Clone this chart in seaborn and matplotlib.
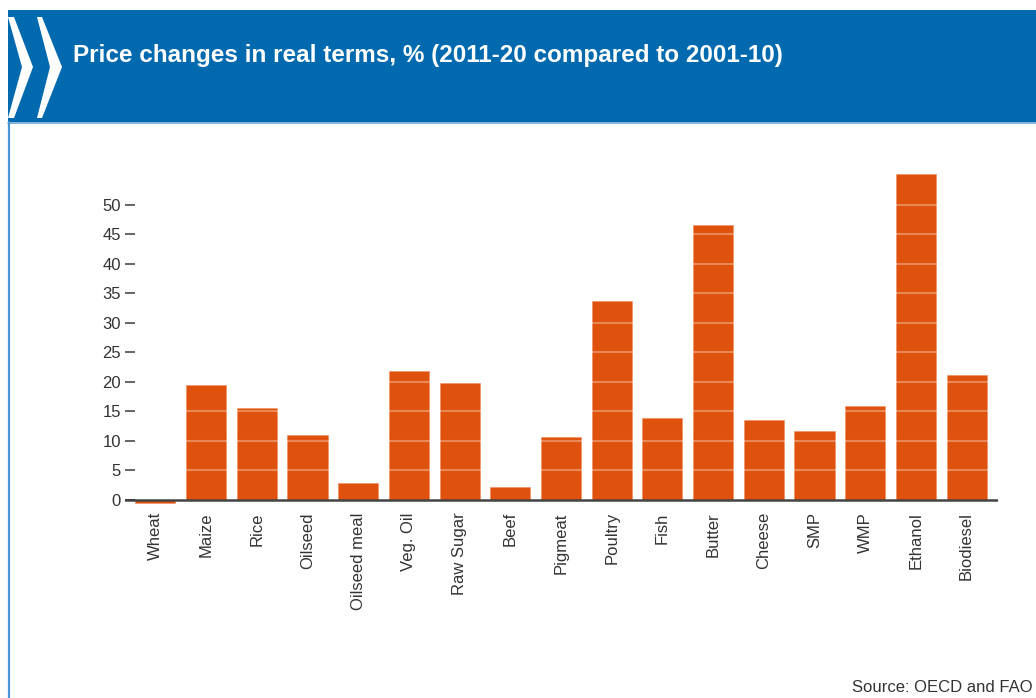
import matplotlib
matplotlib.use("Agg")
import matplotlib.pyplot as plt
import seaborn as sns
import pandas as pd
from matplotlib.patches import Rectangle, Polygon
from matplotlib.lines import Line2D

categories = ["Wheat", "Maize", "Rice", "Oilseed", "Oilseed meal", "Veg. Oil",
              "Raw Sugar", "Beef", "Pigmeat", "Poultry", "Fish", "Butter",
              "Cheese", "SMP", "WMP", "Ethanol", "Biodiesel"]
values = [-0.5, 19.5, 15.6, 11.0, 2.9, 21.9, 19.8, 2.2, 10.7, 33.7, 13.9,
          46.6, 13.6, 11.7, 15.9, 55.3, 21.2]
yticks = [0, 5, 10, 15, 20, 25, 30, 35, 40, 45, 50]
title = "Price changes in real terms, % (2011-20 compared to 2001-10)"
source = "Source: OECD and FAO"

sns.set_theme(style="white")
plt.rcParams['font.family'] = ['Liberation Sans', 'DejaVu Sans']

W, H = 1036, 698
fig = plt.figure(figsize=(W / 100, H / 100), dpi=100)
fig.patch.set_facecolor("white")

def fx(px):
    return px / W

def fy(py):
    return 1 - py / H

blue = "#016aae"
orange = "#df520d"
txt = "#333333"

# header band
fig.add_artist(Rectangle((fx(8), fy(122)), 1 - fx(8), fy(10) - fy(122),
                         transform=fig.transFigure, facecolor=blue,
                         edgecolor="none", zorder=0))
fig.add_artist(Line2D([fx(8), 1], [fy(122.5), fy(122.5)], transform=fig.transFigure,
                      color="#6aa6d6", lw=1.2))
fig.add_artist(Line2D([fx(8.5), fx(8.5)], [0, fy(122)], transform=fig.transFigure,
                      color="#4a96d4", lw=1.6))
# chevrons
for pts in ([(8, 17), (14, 17), (33, 67), (14, 118), (8, 118), (22, 67)],
            [(37, 17), (42, 17), (62, 67), (42, 118), (37, 118), (50, 67)]):
    fig.add_artist(Polygon([(fx(a), fy(b)) for a, b in pts], closed=True,
                           transform=fig.transFigure, facecolor="white",
                           edgecolor="none"))
fig.text(fx(73), fy(62), title, color="white", fontsize=17.5,
         fontweight="bold", va="baseline", ha="left")
fig.text(fx(1033), fy(692), source, color=txt, fontsize=12,
         va="baseline", ha="right")

# axes
y0, y1 = -1, 57
ppu = 5.9
bot_px = 500 - y0 * ppu
top_px = 500 - y1 * ppu
ax = fig.add_axes([fx(125), fy(bot_px), fx(998) - fx(125), (bot_px - top_px) / H])
ax.patch.set_alpha(0)

df = pd.DataFrame({"cat": categories, "val": values})
sns.barplot(data=df, x="cat", y="val", color=orange, saturation=1,
            width=0.79, ax=ax, zorder=2, edgecolor="#f08a5a", linewidth=0.4)

ax.set_xlim(-0.6, 16.62)
ax.set_ylim(y0, y1)
for s in ax.spines.values():
    s.set_visible(False)
ax.set_xlabel("")
ax.set_ylabel("")

for t in yticks[1:]:
    ax.axhline(t, color="white", lw=1.5, alpha=0.3, zorder=3)
ax.axhline(0, color="#444444", lw=1.8, zorder=4)

ax.set_yticks(yticks)
ax.tick_params(axis="y", direction="in", length=7, width=1.4, color="#222222",
               labelsize=12, labelcolor=txt, pad=3, left=True)
ax.tick_params(axis="x", length=0, labelsize=12, labelcolor=txt, pad=4.5,
               labelrotation=90)
for lab in ax.get_xticklabels():
    lab.set_va("top")

fig.savefig("out.png", dpi=100)
